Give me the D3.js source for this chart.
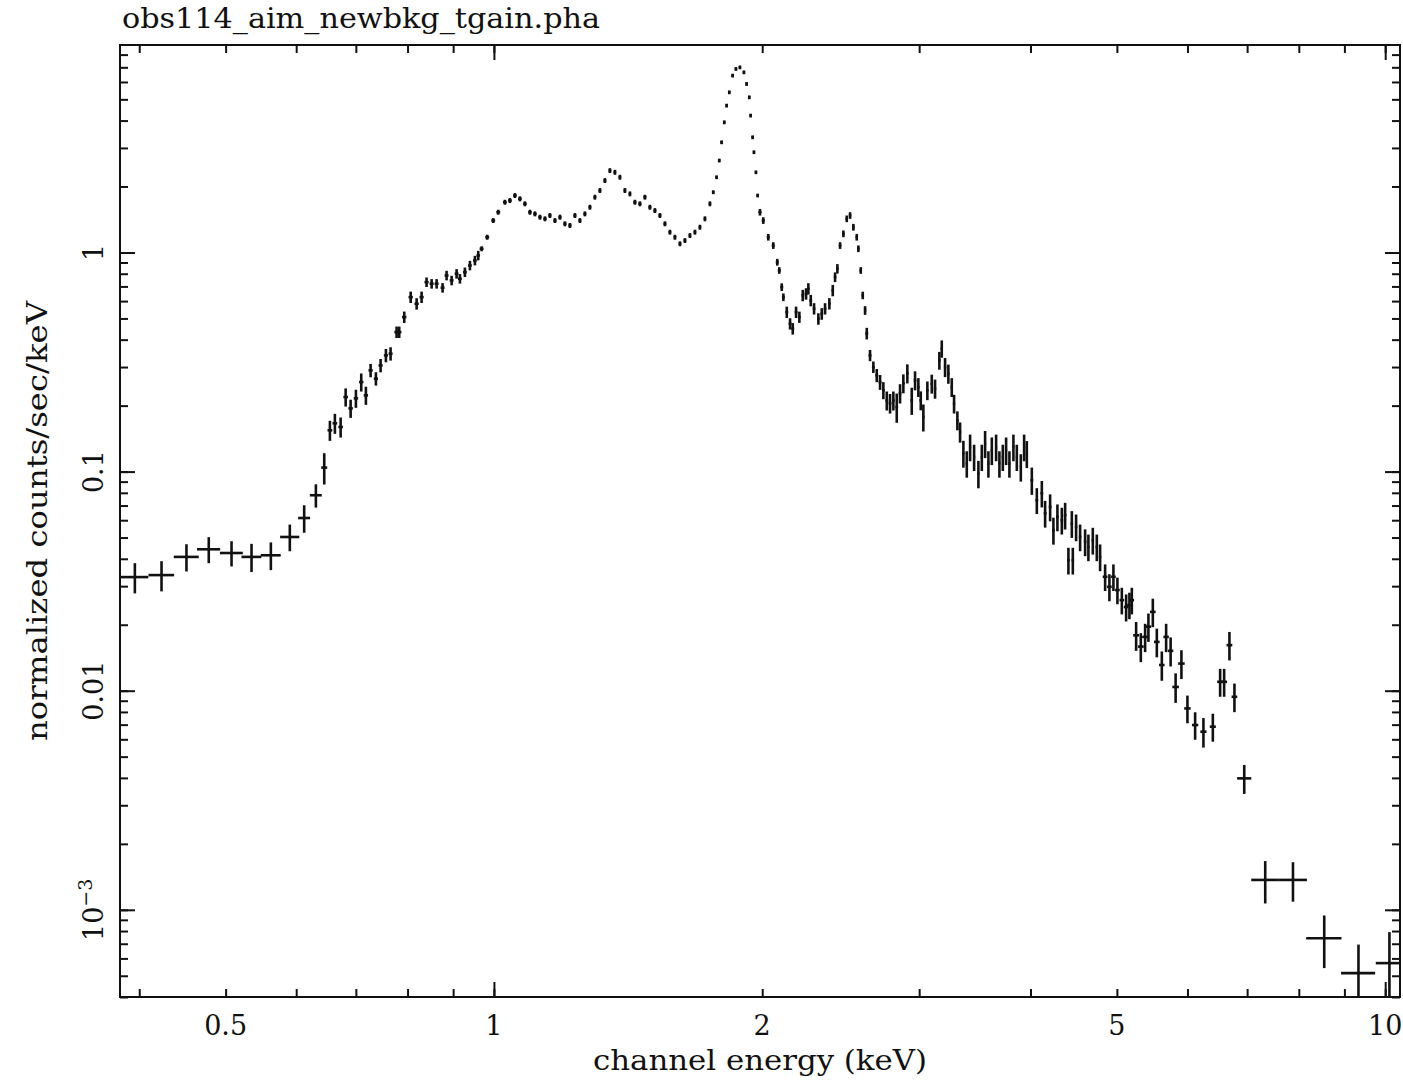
<!DOCTYPE html>
<html>
<head>
<meta charset="utf-8">
<script src="https://cdn.jsdelivr.net/npm/d3@7"></script>
<style>
  body { margin: 0; background: #fff; }
  text { font-family: "DejaVu Serif", serif; fill: #111; }
</style>
</head>
<body>
<div id="chart"></div>
<script>
// spectrum: channel energy (keV), half bin width (keV),
// normalized counts/sec/keV and its 1-sigma error
var energy = [
  // wide low-energy bins
  0.3955, 0.4237, 0.4519, 0.4787, 0.5077, 0.5346, 0.5620, 0.5902, 0.6125, 0.6313, 0.6451,
  // 0.65 - 0.96 keV
  0.6546, 0.6631, 0.6730, 0.6818, 0.6906, 0.7001, 0.7098, 0.7184, 0.7272, 0.7372,
  0.7462, 0.7565, 0.7657, 0.7777, 0.7830, 0.7932, 0.8065, 0.8190, 0.8296, 0.8403,
  0.8514, 0.8624, 0.8758, 0.8849, 0.8965, 0.9081, 0.9159, 0.9278, 0.9399, 0.9521, 0.9603,
  // 0.97 - 1.98 keV
  0.9687, 0.9828, 0.9982, 1.0112, 1.0288, 1.0422, 1.0558, 1.0695, 1.0834, 1.0975,
  1.1118, 1.1263, 1.1410, 1.1556, 1.1708, 1.1861, 1.2013, 1.2170, 1.2328, 1.2488,
  1.2650, 1.2815, 1.2981, 1.3150, 1.3321, 1.3494, 1.3670, 1.3847, 1.4027, 1.4210,
  1.4394, 1.4582, 1.4771, 1.4963, 1.5158, 1.5355, 1.5555, 1.5757, 1.5962, 1.6170,
  1.6380, 1.6593, 1.6809, 1.7027, 1.7249, 1.7473, 1.7623, 1.7778, 1.7898, 1.8009,
  1.8131, 1.8244, 1.8367, 1.8529, 1.8687, 1.8881, 1.9077, 1.9211, 1.9341, 1.9411,
  1.9512, 1.9578, 1.9679, 1.9766,
  // 2.0 - 2.61 keV
  1.9884, 2.0054, 2.0315, 2.0579, 2.0793, 2.0901, 2.1036, 2.1123, 2.1310, 2.1492,
  2.1642, 2.1828, 2.2014, 2.2208, 2.2399, 2.2532, 2.2672, 2.2867, 2.3122, 2.3326,
  2.3526, 2.3789, 2.3998, 2.4142, 2.4286, 2.4456, 2.4666, 2.4883, 2.5096, 2.5311,
  2.5534, 2.5640, 2.5799, 2.5932, 2.6088,
  // 2.62 - 3.96 keV
  2.6202, 2.6424, 2.6651, 2.6887, 2.7118, 2.7350, 2.7593, 2.7826, 2.8065, 2.8312,
  2.8554, 2.8799, 2.9098, 2.9431, 2.9683, 2.9938, 3.0124, 3.0326, 3.0642, 3.0992,
  3.1257, 3.1607, 3.1804, 3.2076, 3.2351, 3.2637, 3.2831, 3.3113, 3.3344, 3.3631,
  3.3928, 3.4219, 3.4575, 3.4961, 3.5270, 3.5572, 3.5877, 3.6194, 3.6598, 3.6912,
  3.7237, 3.7556, 3.7878, 3.8271, 3.8609, 3.9010, 3.9344, 3.9619,
  // 4.0 - 6.8 keV
  4.0135, 4.0657, 4.1186, 4.1538, 4.2078, 4.2438, 4.2879, 4.3369, 4.3741, 4.4115,
  4.4504, 4.4619, 4.4999, 4.5467, 4.6059, 4.6452, 4.6984, 4.7472, 4.7878, 4.8502,
  4.9043, 4.9553, 5.0068, 5.0641, 5.1207, 5.1645, 5.1966, 5.2547, 5.3188, 5.3783,
  5.4243, 5.4863, 5.5433, 5.6154, 5.6782, 5.7446, 5.8192, 5.9071, 5.9995, 6.1201,
  6.2528, 6.4065, 6.5284, 6.5963, 6.6872, 6.7743,
  // wide high-energy bins
  6.948, 7.335, 7.880, 8.543, 9.333, 10.11
];

var halfWidth = [
  0.014, 0.014, 0.0146, 0.0143, 0.015, 0.0137, 0.0145, 0.0146, 0.0095, 0.0097, 0.005,
  0.004, 0.004, 0.004, 0.004, 0.004, 0.004, 0.004, 0.004, 0.004, 0.004,
  0.004, 0.004, 0.004, 0.0045, 0.0045, 0.0045, 0.0045, 0.0045, 0.0045, 0.0045,
  0.0045, 0.0045, 0.0045, 0.0045, 0.0045, 0.0045, 0.0045, 0.0045, 0.0045, 0.0045, 0.0045,
  0.005, 0.005, 0.005, 0.005, 0.005, 0.005, 0.005, 0.005, 0.005, 0.005,
  0.005, 0.005, 0.005, 0.005, 0.005, 0.005, 0.005, 0.005, 0.005, 0.005,
  0.005, 0.005, 0.005, 0.005, 0.005, 0.005, 0.005, 0.005, 0.005, 0.005,
  0.006, 0.006, 0.006, 0.006, 0.006, 0.006, 0.006, 0.006, 0.006, 0.006,
  0.006, 0.006, 0.006, 0.006, 0.006, 0.006, 0.006, 0.006, 0.006, 0.006,
  0.006, 0.006, 0.006, 0.006, 0.006, 0.006, 0.006, 0.006, 0.006, 0.006,
  0.006, 0.006, 0.006, 0.006,
  0.008, 0.008, 0.008, 0.008, 0.008, 0.008, 0.008, 0.008, 0.008, 0.008,
  0.008, 0.008, 0.008, 0.008, 0.008, 0.008, 0.008, 0.008, 0.008, 0.008,
  0.008, 0.008, 0.008, 0.008, 0.008, 0.008, 0.008, 0.008, 0.008, 0.008,
  0.008, 0.008, 0.008, 0.008, 0.008,
  0.010, 0.010, 0.010, 0.010, 0.010, 0.010, 0.010, 0.010, 0.010, 0.010,
  0.010, 0.010, 0.010, 0.010, 0.010, 0.010, 0.010, 0.010, 0.010, 0.010,
  0.010, 0.010, 0.010, 0.010, 0.010, 0.010, 0.010, 0.010, 0.010, 0.010,
  0.010, 0.010, 0.010, 0.010, 0.010, 0.010, 0.010, 0.010, 0.010, 0.010,
  0.010, 0.010, 0.010, 0.010, 0.010, 0.010, 0.010, 0.010,
  0.015, 0.015, 0.015, 0.015, 0.015, 0.015, 0.015, 0.015, 0.015, 0.015,
  0.015, 0.015, 0.015, 0.015, 0.015, 0.015, 0.015, 0.015, 0.015, 0.03,
  0.03, 0.03, 0.03, 0.03, 0.03, 0.03, 0.03, 0.04, 0.04, 0.04,
  0.04, 0.04, 0.04, 0.04, 0.04, 0.04, 0.05, 0.05, 0.05, 0.05,
  0.05, 0.05, 0.05, 0.05, 0.05, 0.05,
  0.127, 0.26, 0.29, 0.39, 0.41, 0.35
];

var rate = [
  0.0330, 0.0337, 0.0408, 0.0442, 0.0425, 0.0408, 0.0415, 0.0503, 0.0614, 0.0780, 0.1043,
  0.1543, 0.1661, 0.1598, 0.2189, 0.1943, 0.2159, 0.2562, 0.2228, 0.2897, 0.2655,
  0.3052, 0.3391, 0.3452, 0.4331, 0.4331, 0.5070, 0.6254, 0.5835, 0.6254, 0.7322,
  0.7200, 0.7200, 0.6903, 0.7855, 0.7455, 0.7997, 0.7587, 0.8132, 0.8724, 0.9194, 0.9690,
  1.040, 1.174, 1.399, 1.527, 1.696, 1.726, 1.820, 1.758, 1.668, 1.527,
  1.501, 1.449, 1.425, 1.475, 1.399, 1.449, 1.352, 1.328, 1.475, 1.399,
  1.501, 1.609, 1.788, 1.918, 2.130, 2.365, 2.323, 2.205, 1.918, 1.852,
  1.696, 1.668, 1.788, 1.609, 1.554, 1.475, 1.352, 1.238, 1.174, 1.096,
  1.134, 1.195, 1.238, 1.304, 1.425, 1.668, 1.884, 2.205, 2.628, 3.184,
  3.928, 4.681, 5.383, 6.415, 6.882, 6.998, 6.640, 5.877, 5.108, 4.215,
  3.356, 2.868, 2.323, 1.820,
  1.527, 1.399, 1.174, 1.076, 0.903, 0.828, 0.695, 0.625, 0.534, 0.473,
  0.449, 0.534, 0.507, 0.637, 0.648, 0.683, 0.604, 0.554, 0.498, 0.525,
  0.554, 0.584, 0.671, 0.772, 0.843, 1.076, 1.217, 1.425, 1.475, 1.304,
  1.174, 1.040, 0.828, 0.637, 0.544,
  0.427, 0.339, 0.300, 0.275, 0.256, 0.235, 0.211, 0.205, 0.211, 0.197,
  0.2275, 0.2527, 0.2806, 0.2114, 0.2608, 0.2430, 0.2114, 0.1774, 0.2348, 0.2519,
  0.2390, 0.3218, 0.3638, 0.2999, 0.2797, 0.2430, 0.2041, 0.1713, 0.1516, 0.1212,
  0.1088, 0.1295, 0.1166, 0.0979, 0.1166, 0.1342, 0.1088, 0.1251, 0.1295, 0.1088,
  0.1166, 0.1251, 0.1088, 0.1295, 0.1166, 0.1050, 0.1295, 0.1208,
  0.0913, 0.0740, 0.0796, 0.0645, 0.0690, 0.0540, 0.0621, 0.0600, 0.0632, 0.0394,
  0.0579, 0.0394, 0.0559, 0.0503, 0.0478, 0.0453, 0.0486, 0.0453, 0.0408, 0.0331,
  0.0298, 0.0331, 0.0288, 0.0259, 0.0241, 0.0246, 0.0259, 0.0179, 0.0159, 0.0176,
  0.0196, 0.0229, 0.0167, 0.0131, 0.0176, 0.0152, 0.0104, 0.0133, 0.0083, 0.00697,
  0.00650, 0.00685, 0.01098, 0.01098, 0.01614, 0.00938,
  0.00398, 0.001369, 0.001369, 0.000742, 0.000514, 0.000571
];

var rateErr = [
  0.0052, 0.0053, 0.0058, 0.0060, 0.0056, 0.0060, 0.0060, 0.0070, 0.0088, 0.0095, 0.0170,
  0.0162, 0.0174, 0.0168, 0.0208, 0.0185, 0.0205, 0.0243, 0.0212, 0.0203, 0.0186,
  0.0214, 0.0237, 0.0242, 0.0260, 0.0260, 0.0304, 0.0375, 0.0350, 0.0375, 0.0366,
  0.0360, 0.0360, 0.0345, 0.0393, 0.0373, 0.0400, 0.0379, 0.0407, 0.0436, 0.0460, 0.0485,
  0.027, 0.031, 0.036, 0.040, 0.044, 0.045, 0.047, 0.046, 0.043, 0.040,
  0.039, 0.038, 0.037, 0.038, 0.036, 0.038, 0.035, 0.035, 0.038, 0.036,
  0.039, 0.042, 0.046, 0.050, 0.055, 0.061, 0.060, 0.057, 0.050, 0.048,
  0.044, 0.043, 0.046, 0.042, 0.040, 0.038, 0.035, 0.032, 0.031, 0.028,
  0.029, 0.031, 0.032, 0.034, 0.037, 0.043, 0.038, 0.044, 0.053, 0.064,
  0.079, 0.094, 0.108, 0.128, 0.138, 0.140, 0.133, 0.118, 0.102, 0.084,
  0.067, 0.057, 0.046, 0.036,
  0.053, 0.049, 0.041, 0.038, 0.032, 0.029, 0.028, 0.025, 0.032, 0.028,
  0.027, 0.032, 0.030, 0.038, 0.039, 0.041, 0.036, 0.033, 0.030, 0.032,
  0.033, 0.035, 0.040, 0.039, 0.042, 0.038, 0.043, 0.050, 0.052, 0.046,
  0.041, 0.036, 0.029, 0.025, 0.025,
  0.026, 0.020, 0.018, 0.019, 0.020, 0.021, 0.021, 0.021, 0.021, 0.030,
  0.023, 0.025, 0.028, 0.030, 0.026, 0.024, 0.021, 0.025, 0.023, 0.025,
  0.024, 0.030, 0.033, 0.030, 0.028, 0.024, 0.020, 0.017, 0.016, 0.017,
  0.015, 0.018, 0.016, 0.014, 0.016, 0.019, 0.015, 0.018, 0.018, 0.015,
  0.016, 0.018, 0.015, 0.018, 0.016, 0.015, 0.018, 0.017,
  0.013, 0.010, 0.011, 0.009, 0.0097, 0.0076, 0.0087, 0.0084, 0.0088, 0.0055,
  0.0081, 0.0055, 0.0078, 0.0070, 0.0067, 0.0063, 0.0068, 0.0063, 0.0057, 0.0046,
  0.0042, 0.0046, 0.0040, 0.0036, 0.0034, 0.0034, 0.0036, 0.0027, 0.0024, 0.0026,
  0.0029, 0.0034, 0.0025, 0.0020, 0.0026, 0.0023, 0.0016, 0.0020, 0.0012, 0.0010,
  0.0010, 0.0010, 0.0016, 0.0016, 0.0024, 0.0014,
  0.0006, 0.0003, 0.00028, 0.0002, 0.00018, 0.00022
];

var xTickLabels = [0.5, 1, 2, 5, 10];
var yTickLabels = [1, 0.1, 0.01, 0.001];
var titleText = "obs114_aim_newbkg_tgain.pha";
var xTitle = "channel energy (keV)";
var yTitle = "normalized counts/sec/keV";

var width = 1403;
var height = 1082;
var margin = {top: 45, right: 3, bottom: 85, left: 120};
var plotRight = width - margin.right;
var plotBottom = height - margin.bottom;

var svg = d3.select("#chart").append("svg")
  .attr("width", width)
  .attr("height", height);

var x = d3.scaleLog().domain([0.3806, 10.39]).range([margin.left, plotRight]);
var y = d3.scaleLog().domain([4.0e-4, 8.85]).range([plotBottom, margin.top]);

var isDecade = function (d) {
  return Math.abs(Math.log10(d) - Math.round(Math.log10(d))) < 1e-6;
};

var xMinor = x.ticks();
var xMajor = xMinor.filter(isDecade);
var yMinor = y.ticks();
var yMajor = yMinor.filter(isDecade);

// ticks on all four sides, pointing inward
function tickAxis(axisFn, scale, values, size, transform) {
  var g = svg.append("g")
    .attr("transform", transform)
    .call(axisFn(scale).tickValues(values).tickSize(size).tickFormat(""));
  g.select(".domain").remove();
  g.selectAll("line").attr("stroke", "#111").attr("stroke-width", 2);
}

tickAxis(d3.axisBottom, x, xMinor, -8, "translate(0," + plotBottom + ")");
tickAxis(d3.axisBottom, x, xMajor, -15, "translate(0," + plotBottom + ")");
tickAxis(d3.axisTop, x, xMinor, -8, "translate(0," + margin.top + ")");
tickAxis(d3.axisTop, x, xMajor, -15, "translate(0," + margin.top + ")");
tickAxis(d3.axisLeft, y, yMinor, -8, "translate(" + margin.left + ",0)");
tickAxis(d3.axisLeft, y, yMajor, -15, "translate(" + margin.left + ",0)");
tickAxis(d3.axisRight, y, yMinor, -8, "translate(" + plotRight + ",0)");
tickAxis(d3.axisRight, y, yMajor, -15, "translate(" + plotRight + ",0)");

// frame
svg.append("rect")
  .attr("x", margin.left)
  .attr("y", margin.top)
  .attr("width", plotRight - margin.left)
  .attr("height", plotBottom - margin.top)
  .attr("fill", "none")
  .attr("stroke", "#111")
  .attr("stroke-width", 2);

// x tick labels
svg.append("g").selectAll("text")
  .data(xTickLabels)
  .join("text")
  .attr("x", d => x(d))
  .attr("y", plotBottom + 38)
  .attr("text-anchor", "middle")
  .attr("font-size", 27)
  .text(d => d);

// y tick labels, rotated
var yLab = svg.append("g").selectAll("text")
  .data(yTickLabels)
  .join("text")
  .attr("transform", d => "translate(103," + y(d) + ") rotate(-90)")
  .attr("text-anchor", "middle")
  .attr("font-size", 27);

yLab.each(function (d) {
  var t = d3.select(this);
  if (d >= 0.01) {
    t.text(d);
  } else {
    var p = Math.round(Math.log10(d));
    t.append("tspan").text("10");
    t.append("tspan")
      .attr("baseline-shift", "super")
      .attr("font-size", 19)
      .text("\u2212" + Math.abs(p));
  }
});

// titles
svg.append("text")
  .attr("x", 122)
  .attr("y", 28)
  .attr("font-size", 27)
  .attr("textLength", 478)
  .attr("lengthAdjust", "spacingAndGlyphs")
  .text(titleText);

svg.append("text")
  .attr("x", (margin.left + plotRight) / 2)
  .attr("y", 1070)
  .attr("text-anchor", "middle")
  .attr("font-size", 27)
  .attr("textLength", 334)
  .attr("lengthAdjust", "spacingAndGlyphs")
  .text(xTitle);

svg.append("text")
  .attr("transform", "translate(47," + (margin.top + plotBottom) / 2 + ") rotate(-90)")
  .attr("text-anchor", "middle")
  .attr("font-size", 27)
  .attr("textLength", 440)
  .attr("lengthAdjust", "spacingAndGlyphs")
  .text(yTitle);

// data crosses
svg.append("clipPath").attr("id", "plotclip")
  .append("rect")
  .attr("x", margin.left)
  .attr("y", margin.top)
  .attr("width", plotRight - margin.left)
  .attr("height", plotBottom - margin.top);

var points = energy.map(function (e, i) {
  return {e: e, h: halfWidth[i], r: rate[i], err: rateErr[i]};
});

var marks = svg.append("g")
  .attr("clip-path", "url(#plotclip)")
  .attr("stroke", "#111")
  .attr("stroke-width", 2.6);

marks.selectAll("line.vbar")
  .data(points)
  .join("line")
  .attr("class", "vbar")
  .attr("x1", d => x(d.e))
  .attr("x2", d => x(d.e))
  .attr("y1", d => y(Math.max(d.r - d.err, 1e-5)))
  .attr("y2", d => y(d.r + d.err));

marks.selectAll("line.hbar")
  .data(points)
  .join("line")
  .attr("class", "hbar")
  .attr("x1", d => x(d.e - d.h))
  .attr("x2", d => x(d.e + d.h))
  .attr("y1", d => y(d.r))
  .attr("y2", d => y(d.r));
</script>
</body>
</html>
